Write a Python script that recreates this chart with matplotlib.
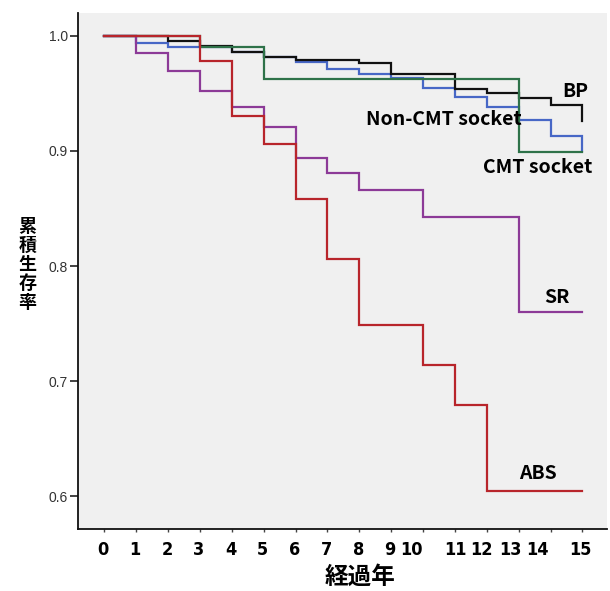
import matplotlib
matplotlib.use('Agg')
import matplotlib.pyplot as plt
from matplotlib import font_manager

# ---- data: cumulative survival per year (steps-post, value holds from year t) ----
years = list(range(16))

bp = [1.0, 1.0, 0.9955, 0.991, 0.986, 0.9815, 0.979, 0.979,
      0.976, 0.967, 0.967, 0.954, 0.9505, 0.9455, 0.940, 0.926]
non_cmt = [1.0, 0.994, 0.990, 0.990, 0.986, 0.9815, 0.977, 0.971,
           0.9665, 0.9635, 0.955, 0.947, 0.938, 0.927, 0.913, 0.900]
cmt = [1.0, 1.0, 1.0, 0.990, 0.990, 0.9625, 0.9625, 0.9625,
       0.9625, 0.9625, 0.9625, 0.9625, 0.9625, 0.899, 0.899, 0.899]
sr = [1.0, 0.985, 0.969, 0.952, 0.938, 0.921, 0.8935, 0.881,
      0.866, 0.866, 0.843, 0.843, 0.843, 0.7605, 0.7605, 0.7605]
abs_ = [1.0, 1.0, 1.0, 0.978, 0.930, 0.906, 0.858, 0.8065,
        0.749, 0.749, 0.7143, 0.679, 0.605, 0.605, 0.605, 0.605]

series_names = ['Non-CMT socket', 'BP', 'CMT socket', 'SR', 'ABS']
series_vals = [non_cmt, bp, cmt, sr, abs_]
series_colors = ['#4767c6', '#111111', '#2e7249', '#8c3a97', '#b8252b']

xtick_labels = [str(i) for i in years]
ytick_vals = [0.6, 0.7, 0.8, 0.9, 1.0]

# label layout (x in data units) - the year labels in the original sit a bit off the ticks
xlabel_pos = [-0.03, 0.97, 1.97, 2.97, 3.97, 4.97, 5.97, 6.98,
              7.97, 8.95, 9.65, 11.03, 11.83, 12.75, 13.6, 14.93]

# pick a narrow bold face for the year labels if one is around
fonts = font_manager.fontManager.ttflist
names = {f.name for f in fonts}
if 'Liberation Sans Narrow' in names:
    narrow_kw = dict(family='Liberation Sans Narrow', fontsize=14)
elif any(f.name == 'DejaVu Sans' and f.stretch == 'condensed' for f in fonts):
    narrow_kw = dict(family='DejaVu Sans', fontstretch='condensed', fontsize=13)
else:
    narrow_kw = dict(family='Liberation Sans', fontsize=13)
jp = ['Noto Sans CJK JP', 'DejaVu Sans']

fig = plt.figure(figsize=(6.10, 5.91), dpi=100)
ax = fig.add_axes([0.1275, 0.105, 0.8675, 0.873])
ax.set_facecolor('#f0f0f0')

for name, vals, col in zip(series_names, series_vals, series_colors):
    ax.plot(years, vals, drawstyle='steps-post', color=col, lw=1.6,
            solid_joinstyle='miter')

ax.set_xlim(-0.83, 15.77)
ax.set_ylim(0.5718, 1.0197)

for s in ['top', 'right']:
    ax.spines[s].set_visible(False)
for s in ['left', 'bottom']:
    ax.spines[s].set_linewidth(1.3)
    ax.spines[s].set_color('#111111')

ax.set_yticks(ytick_vals)
ax.set_yticklabels([f'{v:.1f}' for v in ytick_vals], family='Liberation Sans',
                   fontsize=10, color='#333333')
ax.tick_params(axis='y', length=6, width=1.2, color='#222222', pad=1)
ax.set_xticks(years)
ax.set_xticklabels([''] * len(years))
ax.tick_params(axis='x', length=2.5, width=1.0, color='#444444')

trans = ax.get_xaxis_transform()
for lab, xp in zip(xtick_labels, xlabel_pos):
    ax.text(xp, -0.041, lab, transform=trans, ha='center', va='center',
            fontweight='bold', **narrow_kw)

# curve labels
lab_kw = dict(family=jp, fontweight='bold', fontsize=14, ha='center', va='center')
ax.text(14.78, 0.9515, 'BP', **lab_kw)
ax.text(10.66, 0.9275, 'Non-CMT socket', **lab_kw)
ax.text(13.6, 0.886, 'CMT socket', **lab_kw)
ax.text(14.19, 0.773, 'SR', **lab_kw)
ax.text(13.59, 0.6195, 'ABS', **lab_kw)

fig.text(0.59, 0.024, '経過年', family=jp, fontweight='bold', fontsize=17,
         ha='center', va='center')
fig.text(0.045, 0.553, '\n'.join('累積生存率'), family=jp, fontweight='bold',
         fontsize=13, ha='center', va='center', linespacing=1.0)

fig.savefig('out.png', dpi=100)
